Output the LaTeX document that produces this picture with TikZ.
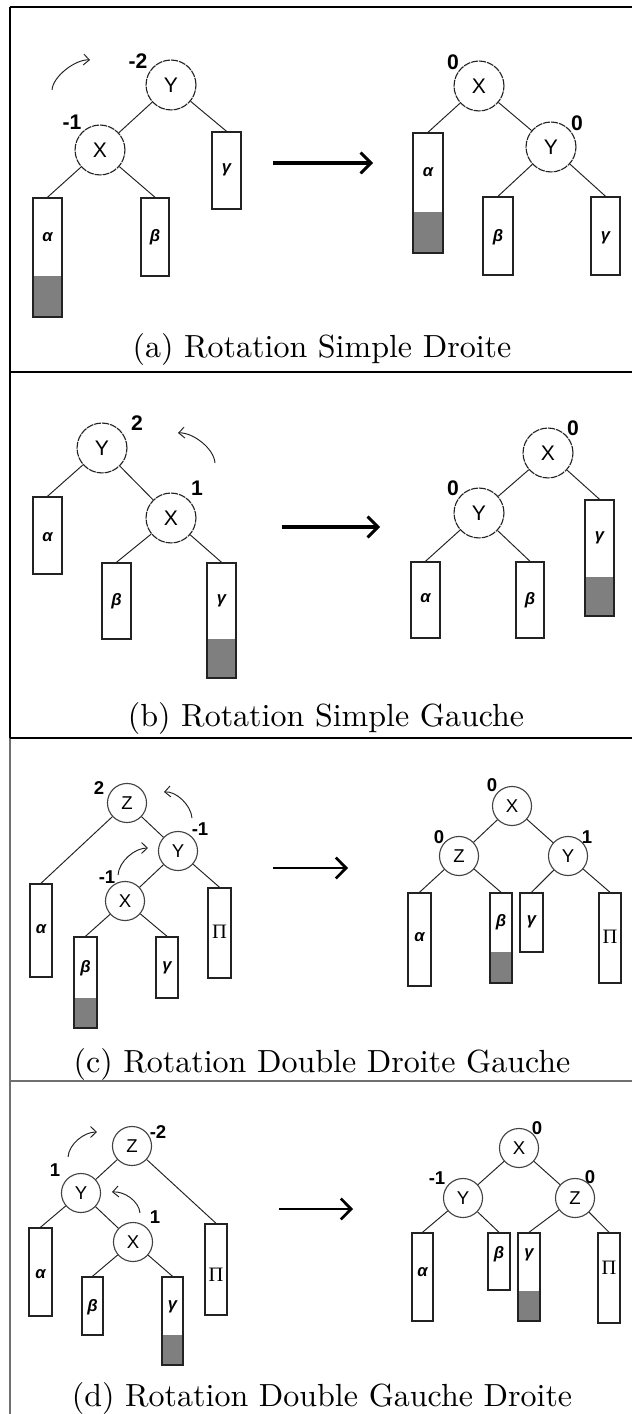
\documentclass[tikz,border=0pt]{standalone}
\usepackage{fontspec}
\usetikzlibrary{arrows.meta,fit}
\newfontfamily\sansf{Liberation Sans}
\newfontfamily\seriff{Liberation Serif}
\definecolor{ink}{HTML}{222222}
\definecolor{leafgray}{HTML}{7F7F7F}
\definecolor{framegray}{HTML}{707070}

% leaf subtree: name, x-left, x-right, y-top, y-end of white part, y-bottom, label y, label
\newcommand\leaf[8]{%
  \fill[leafgray] (#2,#5) rectangle (#3,#6);
  \node[leafbox, fit={(#2,#4) (#3,#6)}] (#1) {};
  \node[glabel] (#1-t) at ({(#2+#3)/2},#7) {#8};
}
\newcommand\Pig{{\seriff\mdseries\upshape\fontsize{6.4}{7}\selectfont Π}}

\tikzset{
  cA/.style={circle, draw=ink, line width=0.35pt, dash pattern=on 2.2pt off 0.3pt,
    minimum size=15.6pt, inner sep=0pt, font=\sansf\fontsize{6.6}{7}\selectfont},
  cB/.style={circle, draw=ink!85, line width=0.35pt,
    minimum size=12.2pt, inner sep=0pt, font=\sansf\fontsize{5.8}{6}\selectfont},
  bal/.style={inner sep=0pt, font=\sansf\bfseries\fontsize{6.6}{7}\selectfont},
  balB/.style={inner sep=0pt, font=\sansf\bfseries\fontsize{5.8}{6}\selectfont},
  glabel/.style={inner sep=0pt, font=\sansf\bfseries\itshape\fontsize{5.2}{6}\selectfont},
  leafbox/.style={rectangle, draw=ink, line width=0.45pt, inner sep=0pt},
  edge/.style={draw=ink, line width=0.3pt},
  rot/.style={draw=ink, line width=0.3pt, -{Straight Barb[length=1.8pt,width=3.4pt]}},
  mainarrow/.style={draw=black, line width=0.95pt, -{Straight Barb[length=3.2pt,width=6.5pt]}},
  caption/.style={anchor=base, inner sep=0pt, font=\fontsize{10}{12}\selectfont},
}

\begin{document}
\begin{tikzpicture}[x=0.3125pt, y=-0.3125pt]
\useasboundingbox (0,0) rectangle (632,1414);

% ---------- frame ----------
\draw[line width=0.6pt] (10,7) -- (632,7);
\draw[line width=0.5pt] (10,7) -- (10,738);
\draw[line width=0.5pt, framegray] (10,738) -- (10,1414);
\draw[line width=0.45pt] (10,372) -- (632,372);
\draw[line width=0.45pt] (10,738) -- (632,738);
\draw[line width=0.45pt, framegray] (10,1081) -- (632,1081);

% ---------- (a) ----------
\node[cA] (aY) at (171,85) {Y};
\node[cA] (aX) at (100,150) {X};
\node[bal] (aYb) at (138,61) {-2};
\node[bal] (aXb) at (72,122) {-1};
\leaf{aAl}{33}{62}{198}{276}{317}{237}{α}
\leaf{aBe}{141}{169}{198}{276}{276}{237}{β}
\leaf{aGa}{212}{241}{132}{209}{209}{170}{γ}
\draw[edge] (aY) -- (aX);
\draw[edge] (aY) -- (aGa.north);
\draw[edge] (aX) -- (aAl.north);
\draw[edge] (aX) -- (aBe.north);
\coordinate (aR1) at (52,90); \coordinate (aR2) at (90,60);
\draw[rot] (aR1) .. controls (53,76) and (76,59) .. (aR2);
\coordinate (aM1) at (273,163); \coordinate (aM2) at (373,163);
\draw[mainarrow] (aM1) -- (aM2);

\node[cA] (aX2) at (479,86) {X};
\node[cA] (aY2) at (551,147) {Y};
\node[bal] (aX2b) at (453,62) {0};
\node[bal] (aY2b) at (577,123) {0};
\leaf{aAl2}{413}{443}{133}{212}{253}{172}{α}
\leaf{aBe2}{483}{513}{197}{275}{275}{237}{β}
\leaf{aGa2}{591}{620}{197}{275}{275}{238}{γ}
\draw[edge] (aX2) -- (aAl2.north);
\draw[edge] (aX2) -- (aY2);
\draw[edge] (aY2) -- (aBe2.north);
\draw[edge] (aY2) -- (aGa2.north);
\node[caption] (capA) at (322,358) {(a) Rotation Simple Droite};

% ---------- (b) ----------
\node[cA] (bY) at (102,448) {Y};
\node[cA] (bX) at (171,518) {X};
\node[bal] (bYb) at (137,423) {2};
\node[bal] (bXb) at (197,488) {1};
\leaf{bAl}{33}{62}{497}{574}{574}{537}{α}
\leaf{bBe}{102}{131}{563}{639}{639}{601}{β}
\leaf{bGa}{207}{236}{563}{639}{678}{601}{γ}
\draw[edge] (bY) -- (bAl.north);
\draw[edge] (bY) -- (bX);
\draw[edge] (bX) -- (bBe.north);
\draw[edge] (bX) -- (bGa.north);
\coordinate (bR1) at (215,463); \coordinate (bR2) at (178,433);
\draw[rot] (bR1) .. controls (214,448) and (192,432) .. (bR2);
\coordinate (bM1) at (282,527); \coordinate (bM2) at (380,527);
\draw[mainarrow] (bM1) -- (bM2);

\node[cA] (bX2) at (548,453) {X};
\node[cA] (bY2) at (479,513) {Y};
\node[bal] (bX2b) at (573,428) {0};
\node[bal] (bY2b) at (453,488) {0};
\leaf{bGa2}{585}{614}{500}{577}{616}{538}{γ}
\leaf{bAl2}{411}{440}{562}{638}{638}{598}{α}
\leaf{bBe2}{516}{544}{562}{638}{638}{600}{β}
\draw[edge] (bX2) -- (bY2);
\draw[edge] (bX2) -- (bGa2.north);
\draw[edge] (bY2) -- (bAl2.north);
\draw[edge] (bY2) -- (bBe2.north);
\node[caption] (capB) at (326,726) {(b) Rotation Simple Gauche};

% ---------- (c) ----------
\node[cB] (cZ) at (127,803) {Z};
\node[cB] (cY) at (178,851) {Y};
\node[cB] (cX) at (125,901) {X};
\node[balB] (cZb) at (99,788) {2};
\node[balB] (cYb) at (200,829) {-1};
\node[balB] (cXb) at (107,877) {-1};
\leaf{cAl}{30}{52}{884}{977}{977}{929}{α}
\leaf{cPi}{208}{231}{888}{978}{978}{932}{\Pig}
\leaf{cBe}{74}{97}{937}{998}{1028}{968}{β}
\leaf{cGa}{156}{178}{937}{998}{998}{968}{γ}
\draw[edge] (cZ) -- (cAl.north);
\draw[edge] (cZ) -- (cY);
\draw[edge] (cY) -- (cX);
\draw[edge] (cY) -- (cPi.north);
\draw[edge] (cX) -- (cBe.north);
\draw[edge] (cX) -- (cGa.north);
\coordinate (cR1) at (192,818); \coordinate (cR2) at (164,792);
\draw[rot] (cR1) .. controls (191,805) and (176,791) .. (cR2);
\coordinate (cR3) at (118,875); \coordinate (cR4) at (148,848);
\draw[rot] (cR3) .. controls (119,861) and (135,848) .. (cR4);
\coordinate (cM1) at (273,868); \coordinate (cM2) at (348,868);
\draw[mainarrow, line width=0.85pt] (cM1) -- (cM2);

\node[cB] (cX2) at (512,806) {X};
\node[cB] (cZ2) at (459,856) {Z};
\node[cB] (cY2) at (568,856) {Y};
\node[balB] (cX2b) at (492,785) {0};
\node[balB] (cZ2b) at (439,837) {0};
\node[balB] (cY2b) at (587,837) {1};
\leaf{cAl2}{408}{431}{893}{986}{986}{937}{α}
\leaf{cBe2}{490}{512}{893}{952}{983}{922}{β}
\leaf{cGa2}{520}{543}{893}{952}{952}{922}{γ}
\leaf{cPi2}{599}{621}{893}{983}{983}{937}{\Pig}
\draw[edge] (cX2) -- (cZ2);
\draw[edge] (cX2) -- (cY2);
\draw[edge] (cZ2) -- (cAl2.north);
\draw[edge] (cZ2) -- (cBe2.north);
\draw[edge] (cY2) -- (cGa2.north);
\draw[edge] (cY2) -- (cPi2.north);
\node[caption] (capC) at (322,1072) {(c) Rotation Double Droite Gauche};

% ---------- (d) ----------
\node[cB] (dZ) at (132,1146) {Z};
\node[cB] (dY) at (81,1193) {Y};
\node[cB] (dX) at (133,1242) {X};
\node[balB] (dZb) at (158,1132) {-2};
\node[balB] (dYb) at (55,1170) {1};
\node[balB] (dXb) at (155,1217) {1};
\leaf{dPi}{205}{227}{1224}{1315}{1315}{1275}{\Pig}
\leaf{dAl}{29}{52}{1228}{1316}{1316}{1274}{α}
\leaf{dBe}{82}{103}{1277}{1335}{1335}{1307}{β}
\leaf{dGa}{162}{183}{1277}{1335}{1365}{1307}{γ}
\draw[edge] (dZ) -- (dY);
\draw[edge] (dZ) -- (dPi.north);
\draw[edge] (dY) -- (dAl.north);
\draw[edge] (dY) -- (dX);
\draw[edge] (dX) -- (dBe.north);
\draw[edge] (dX) -- (dGa.north);
\coordinate (dR1) at (68,1157); \coordinate (dR2) at (97,1132);
\draw[rot] (dR1) .. controls (69,1144) and (84,1132) .. (dR2);
\coordinate (dR3) at (140,1213); \coordinate (dR4) at (112,1192);
\draw[rot] (dR3) .. controls (139,1201) and (124,1191) .. (dR4);
\coordinate (dM1) at (279,1209); \coordinate (dM2) at (353,1209);
\draw[mainarrow, line width=0.85pt] (dM1) -- (dM2);

\node[cB] (dX2) at (519,1148) {X};
\node[cB] (dY2) at (463,1198) {Y};
\node[cB] (dZ2) at (575,1198) {Z};
\node[balB] (dX2b) at (537,1128) {0};
\node[balB] (dY2b) at (437,1178) {-1};
\node[balB] (dZ2b) at (590,1177) {0};
\leaf{dAl2}{412}{433}{1233}{1321}{1321}{1272}{α}
\leaf{dBe2}{488}{510}{1233}{1290}{1290}{1254}{β}
\leaf{dGa2}{518}{540}{1233}{1291}{1321}{1255}{γ}
\leaf{dPi2}{598}{620}{1233}{1323}{1323}{1268}{\Pig}
\draw[edge] (dX2) -- (dY2);
\draw[edge] (dX2) -- (dZ2);
\draw[edge] (dY2) -- (dAl2.north);
\draw[edge] (dY2) -- (dBe2.north);
\draw[edge] (dZ2) -- (dGa2.north);
\draw[edge] (dZ2) -- (dPi2.north);
\node[caption] (capD) at (322,1406) {(d) Rotation Double Gauche Droite};
\end{tikzpicture}
\end{document}
